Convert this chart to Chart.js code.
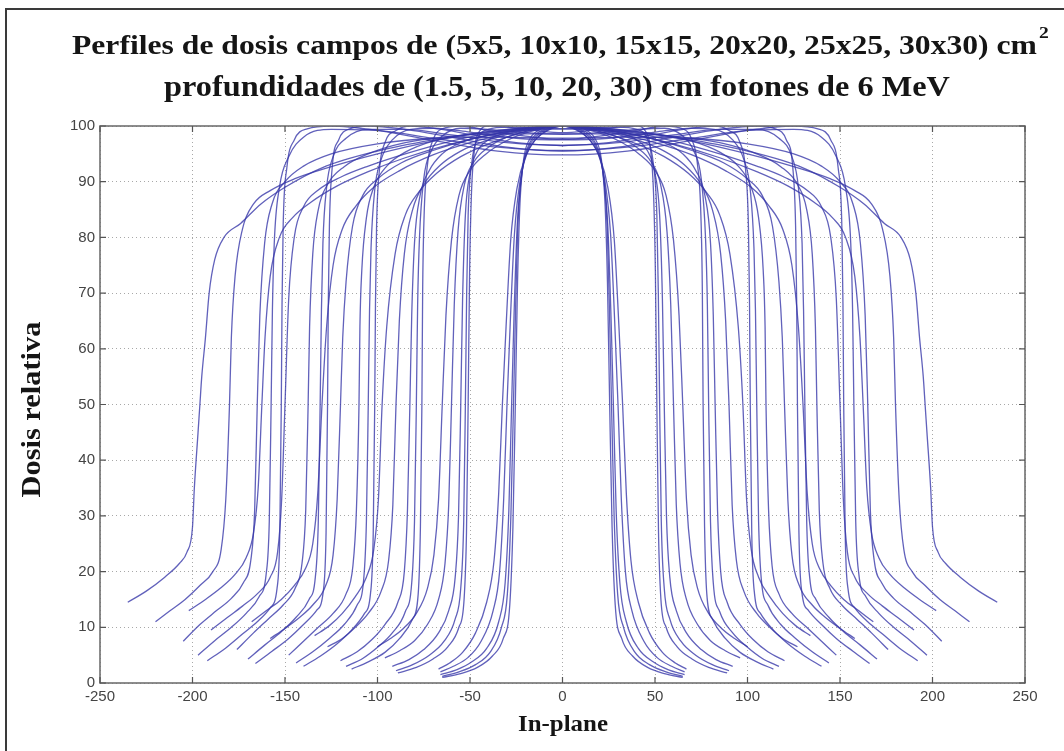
<!DOCTYPE html>
<html>
<head>
<meta charset="utf-8">
<script src="https://cdn.jsdelivr.net/npm/chart.js@4/dist/chart.umd.min.js"></script>
<style>
  html, body { margin: 0; padding: 0; background: #fff; }
  #wrap { position: relative; width: 1064px; height: 751px; overflow: hidden; }
  #frame { position: absolute; left: 5px; top: 8px; width: 1100px; height: 800px;
           border-left: 2px solid #3a3a3a; border-top: 2px solid #3a3a3a; }
  canvas { position: absolute; left: 0; top: 0; }
</style>
</head>
<body>
<div id="wrap">
  <div id="frame"></div>
  <canvas id="c" width="1064" height="751"></canvas>
</div>
<script>
// Half profiles: [off-axis distance (mm), relative dose (%)], symmetric about the central axis.
// Each field size holds five depths: 1.5, 5, 10, 20 and 30 cm.
const depthsCm = [1.5, 5, 10, 20, 30];
const fieldLabels = ['5x5', '10x10', '15x15', '20x20', '25x25', '30x30'];

const campo5x5 = [
  [[0,100],[8,99.8],[14,99],[18,97.5],[21,94],[23,86],[24.3,72],[25.5,50],[26.8,28],[28.5,14],[32,8],[38,4.8],[46,2.8],[55,1.7],[65,1.0]],
  [[0,100],[8,99.6],[14,98.6],[18,96.8],[21.5,92.5],[24,83],[25.3,68],[26.5,50],[27.9,30],[29.8,16],[33,10],[39,5.6],[47,3.3],[56,2],[65,1.2]],
  [[0,100],[8,99.5],[14,98.2],[18.5,96],[22,91.5],[24.5,82],[26.2,66],[27.5,50],[29,31],[31,18],[34.5,11],[41,6.2],[49,3.8],[57,2.4],[66,1.5]],
  [[0,100],[8,99.3],[14,97.8],[19,95.2],[23,90],[26,80.5],[28.2,65],[30,50],[31.8,33],[34,20],[37.5,13],[44,7.5],[51,4.6],[59,3],[66,2.0]],
  [[0,100],[8,99.2],[15,97.4],[20,94.5],[24.5,89],[28,79.5],[30.5,64],[32.5,50],[34.5,34],[37,22],[41,14.5],[47,9],[54,5.5],[61,3.6],[67,2.5]]
];

const campo10x10 = [
  [[0,98.8],[15,99.2],[30,99.8],[40,100],[45,99],[47.5,96],[49.2,88],[50.2,74],[51,50],[51.9,27],[53.2,15],[56,10],[62,6.5],[70,4.3],[79,2.8],[89,1.8]],
  [[0,99.5],[15,99.7],[30,99.8],[40,99.4],[46,97.6],[49,93.5],[51,84],[51.8,70],[52.5,50],[53.4,29],[55,17],[58,11.5],[64,7.5],[72,5],[81,3.3],[90,2.2]],
  [[0,100],[15,99.7],[30,98.8],[40,97.5],[46,95.5],[50,91.5],[52.5,84],[54,69],[55,50],[56.2,30],[58,19],[61.5,13],[67,9],[75,6],[83,4.2],[92,3.0]],
  [[0,100],[15,99.4],[30,98],[40,96.2],[48,93.5],[53,89.5],[56.5,81],[58.5,68],[60,50],[61.5,32],[63.5,21.5],[67,15],[73,10.5],[80,7.6],[88,5.8],[96,4.5]],
  [[0,100],[15,99.2],[30,97.4],[42,94.8],[50,92],[56,87.5],[60,79.5],[63,66],[65,50],[67,33],[69.5,23],[73,17],[79,12.5],[86,9.8],[93,8],[100,6.5]]
];

const campo15x15 = [
  [[0,97.6],[20,98.2],[40,99.2],[55,100],[65,99.5],[70,97.5],[73,93],[74.8,84],[75.6,70],[76,50],[76.8,28],[78,16],[81,11.5],[88,8],[96,5.5],[105,3.8],[114,2.5]],
  [[0,98.5],[20,98.8],[40,99.4],[55,99.6],[65,98.2],[71,95.5],[75,90.5],[77.3,80],[78.3,68],[79,50],[80,29],[81.5,18],[85,12.8],[92,9],[100,6.4],[108,4.4],[117,3.0]],
  [[0,100],[20,99.3],[40,98.3],[55,97],[65,95],[72,92],[77,87.5],[80,79],[81.5,66],[82.5,50],[83.8,31],[85.5,20],[89,14.5],[96,10.5],[103,7.8],[111,5.6],[120,4.0]],
  [[0,100],[20,99.2],[40,97.5],[55,95.5],[66,93],[75,89.5],[81,85],[85.5,77],[88.2,65],[90,50],[91.7,32],[94,22],[98,16.5],[105,12.5],[112,10],[119,8],[127,6.5]],
  [[0,100],[20,99],[40,96.8],[55,94.5],[68,91.5],[78,88],[85,84],[90.5,77],[95,64],[97.5,50],[99.5,33],[102,24],[106,19],[112,15.5],[119,12.5],[126,10.3],[134,8.5]]
];

const campo20x20 = [
  [[0,96.5],[25,97],[50,98.5],[70,99.6],[82,100],[90,99.2],[96,97],[99,92],[100.5,82],[101.1,68],[101.5,50],[102.3,27],[103.8,16],[107,12.5],[114,9.5],[122,7],[131,4.8],[140,3.0]],
  [[0,97.5],[25,97.8],[50,98.9],[70,99.6],[82,99.4],[92,97.5],[98,94],[101.5,88.5],[103.5,78],[104.3,67],[105,50],[106,29],[107.5,18.5],[111,14],[118,10.5],[126,8],[135,5.6],[144,3.6]],
  [[0,99.5],[25,99.2],[50,98.5],[70,97.3],[85,95.3],[95,92.8],[102,89],[106,83.5],[108.5,74],[109.5,64],[110,50],[111.4,31],[113.3,21],[117,16],[124,12.5],[132,10],[140,7.5],[148,5.0]],
  [[0,100],[25,99.3],[50,97.6],[70,95.6],[87,93.4],[100,90.5],[108,87.5],[113.5,82],[117,72],[118.8,62],[120,50],[121.8,33],[124,23],[128,17.5],[135,14],[142,11.8],[150,9.8],[158,8.0]],
  [[0,100],[25,99],[50,97],[70,94.8],[88,92],[102,89],[112,85.5],[119,81.5],[124,75],[127.5,64],[130,50],[132.3,34],[135,25],[139,20.5],[145,17.5],[152,15],[160,13],[168,11]]
];

const campo25x25 = [
  [[0,95.5],[30,96.2],[60,98],[85,99.4],[105,100],[115,99.5],[121,97.5],[124.5,92.5],[126,82],[126.6,68],[127,50],[127.8,27],[129.3,16.5],[133,13],[140,10.5],[148,8],[157,5.7],[166,3.5]],
  [[0,96.5],[30,97],[60,98.4],[85,99.4],[105,99.4],[117,97.8],[124,94.5],[127.5,89],[129.5,79],[130.3,67],[131,50],[132,29],[133.6,19],[137,15],[144,11.8],[152,9.2],[161,6.8],[170,4.3]],
  [[0,98.6],[30,98.6],[60,98.2],[85,97],[105,95],[118,92.7],[127,89.5],[132,85],[135,77],[136.7,64],[137.5,50],[138.8,31],[140.8,21.5],[144.5,17],[151,14],[159,11.5],[167,9],[176,6.0]],
  [[0,100],[30,99.2],[60,97.3],[85,95],[105,92.8],[120,90.8],[132,88.5],[140,85.5],[145,80],[148,69],[150,50],[151.8,33],[154,23.5],[158,19],[165,16],[173,13.8],[181,11.8],[190,9.5]],
  [[0,100],[30,99],[60,96.8],[85,94.3],[105,91.8],[122,89.2],[136,86.3],[146,83.5],[153,80],[158,73],[160.8,62],[162.5,50],[164.5,35],[167,27],[171,22.5],[177,19.5],[185,17],[193,15],[202,13]]
];

const campo30x30 = [
  [[0,94.8],[35,95.5],[70,97.4],[100,99.2],[125,100],[138,99.5],[145,97.5],[149,92.5],[151,82],[151.6,68],[152,50],[152.8,27],[154.3,17],[158,13.5],[165,11],[173,8.8],[182,6.3],[192,4.0]],
  [[0,95.6],[35,96.2],[70,97.8],[100,99.2],[125,99.4],[140,98],[148,94.5],[153,89],[155.8,79],[156.8,67],[157.5,50],[158.5,29],[160.2,19.5],[164,15.5],[171,12.5],[179,10],[188,7.6],[197,5.0]],
  [[0,97.8],[35,98],[70,97.8],[100,96.8],[125,95],[140,92.8],[150,90],[157,86],[161,79],[163.6,66],[165,50],[166.4,31],[168.5,22],[172.5,18],[179,15.2],[187,13],[196,10.5],[205,7.5]],
  [[0,100],[35,99.2],[70,97.3],[100,95],[125,92.7],[145,90.5],[158,88.4],[167,86],[173,81.5],[177,73],[179,62],[180,50],[182,33],[184.5,24],[189,20],[196,17.5],[204,15],[212,13],[220,11]],
  [[0,100],[40,99],[70,97.5],[100,95.5],[130,92.5],[150,89],[163,86],[174,82.5],[183,80],[188,76],[191,70],[193,62],[195,55],[196,50],[197,45],[199,35],[200,28],[203,23.5],[207,21.5],[215,19],[225,16.5],[235,14.5]]
];

const xTicks = [-250, -200, -150, -100, -50, 0, 50, 100, 150, 200, 250];
const yTicks = [0, 10, 20, 30, 40, 50, 60, 70, 80, 90, 100];

const titleLine1 = 'Perfiles de dosis campos de (5x5, 10x10, 15x15, 20x20, 25x25, 30x30) cm';
const titleSup = '2';
const titleLine2 = 'profundidades de (1.5, 5, 10, 20, 30) cm fotones de 6 MeV';
const xTitle = 'In-plane';
const yTitle = 'Dosis relativa';

const campos = [campo5x5, campo10x10, campo15x15, campo20x20, campo25x25, campo30x30];

// Each half profile becomes one full profile from the left tail to the right tail.
const datasets = [];
campos.forEach((campo, fi) => {
  campo.forEach((half, di) => {
    const left = half.slice(1).reverse().map(p => ({ x: -p[0], y: p[1] }));
    const right = half.map(p => ({ x: p[0], y: p[1] }));
    datasets.push({
      label: fieldLabels[fi] + ' @ ' + depthsCm[di] + ' cm',
      data: left.concat(right),
      borderColor: 'rgba(52,52,168,0.78)',
      borderWidth: 1.3,
      pointRadius: 0,
      showLine: true,
      fill: false,
      cubicInterpolationMode: 'monotone'
    });
  });
});

const serifFamily = '"Liberation Serif", "DejaVu Serif", serif';
const serifFont = size => 'bold ' + size + 'px ' + serifFamily;
const STRETCH = 1.12; // serif text is drawn slightly widened

// Font size that makes a (widened) text span the given width.
function fitSize(ctx, text, width) {
  ctx.font = serifFont(20);
  return 20 * width / (ctx.measureText(text).width * STRETCH);
}

// Draws widened serif text; returns its drawn width.
function wideText(ctx, text, x, y, size) {
  ctx.save();
  ctx.font = serifFont(size);
  ctx.translate(x, y);
  ctx.scale(STRETCH, 1);
  ctx.fillText(text, 0, 0);
  const w = ctx.measureText(text).width * STRETCH;
  ctx.restore();
  return w;
}

// Axis box with inward tick marks on all four sides, plus titles.
const frameAndText = {
  id: 'frameAndText',
  afterDatasetsDraw(chart) {
    const { ctx, chartArea: a, scales } = chart;
    ctx.save();
    ctx.strokeStyle = '#707070';
    ctx.lineWidth = 1.6;
    ctx.strokeRect(a.left, a.top, a.right - a.left, a.bottom - a.top);
    ctx.lineWidth = 1.2;
    ctx.strokeStyle = '#555';
    const L = 6;
    xTicks.forEach(v => {
      const px = scales.x.getPixelForValue(v);
      ctx.beginPath();
      ctx.moveTo(px, a.bottom); ctx.lineTo(px, a.bottom - L);
      ctx.moveTo(px, a.top); ctx.lineTo(px, a.top + L);
      ctx.stroke();
    });
    yTicks.forEach(v => {
      const py = scales.y.getPixelForValue(v);
      ctx.beginPath();
      ctx.moveTo(a.left, py); ctx.lineTo(a.left + L, py);
      ctx.moveTo(a.right, py); ctx.lineTo(a.right - L, py);
      ctx.stroke();
    });
    ctx.restore();
  },
  afterDraw(chart) {
    const { ctx, chartArea: a } = chart;
    ctx.save();
    ctx.fillStyle = '#151515';
    ctx.textBaseline = 'alphabetic';
    ctx.textAlign = 'left';
    // first title line with superscript
    const s1 = fitSize(ctx, titleLine1, 965);
    const w1 = wideText(ctx, titleLine1, 72, 54, s1);
    wideText(ctx, titleSup, 72 + w1 + 2, 38, s1 * 0.62);
    // second title line
    const s2 = fitSize(ctx, titleLine2, 786);
    wideText(ctx, titleLine2, 164, 96, s2);
    // axis titles
    const sx = fitSize(ctx, xTitle, 90);
    ctx.textBaseline = 'middle';
    wideText(ctx, xTitle, 563 - 45, 725, sx);
    ctx.translate(33, (a.top + a.bottom) / 2 + 5);
    ctx.rotate(-Math.PI / 2);
    wideText(ctx, yTitle, -88, 0, fitSize(ctx, yTitle, 176));
    ctx.restore();
  }
};

new Chart(document.getElementById('c'), {
  type: 'scatter',
  data: { datasets },
  options: {
    responsive: false,
    animation: false,
    events: [],
    layout: { padding: { left: 0, right: 39, top: 126, bottom: 0 } },
    plugins: { legend: { display: false }, tooltip: { enabled: false }, title: { display: false } },
    scales: {
      x: {
        type: 'linear', min: -250, max: 250,
        afterBuildTicks: s => { s.ticks = xTicks.map(v => ({ value: v })); },
        afterFit: s => { s.height = 68; },
        grid: { color: '#a8a8a8', lineWidth: 1, drawTicks: false },
        border: { display: false, dash: [1, 3] },
        ticks: { color: '#444', padding: 5, maxRotation: 0, autoSkip: false,
                 font: { family: '"Liberation Sans", Arial, sans-serif', size: 15 } }
      },
      y: {
        type: 'linear', min: 0, max: 100,
        afterBuildTicks: s => { s.ticks = yTicks.map(v => ({ value: v })); },
        afterFit: s => { s.width = 100; },
        grid: { color: '#a8a8a8', lineWidth: 1, drawTicks: false },
        border: { display: false, dash: [1, 3] },
        ticks: { color: '#444', padding: 5, autoSkip: false,
                 font: { family: '"Liberation Sans", Arial, sans-serif', size: 15 } }
      }
    }
  },
  plugins: [frameAndText]
});
</script>
</body>
</html>
